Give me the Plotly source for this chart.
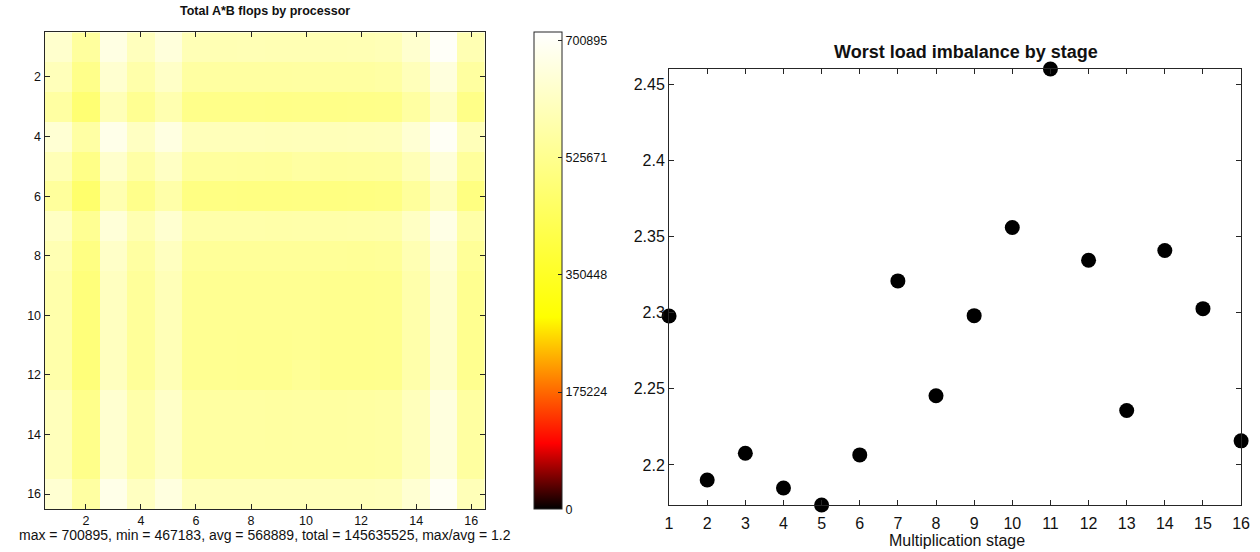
import plotly.graph_objects as go

W, H = 1260, 552

# ---------------- data ----------------
processor_cols = list(range(1, 17))
processor_rows = list(range(1, 17))

# Total A*B flops per processor (16 x 16 grid, rows top->bottom)
flops = [
    [630000, 550000, 666000, 602000, 652000, 590000, 588000, 589000, 587000, 588000, 586000, 588000, 592000, 632000, 700895, 586000],
    [598000, 518000, 634000, 570000, 620000, 557000, 556000, 556000, 555000, 557000, 555000, 556000, 560000, 598000, 656000, 554000],
    [558000, 478000, 594000, 530000, 580000, 518000, 516000, 515000, 514000, 516000, 514000, 515000, 518000, 558000, 616000, 514000],
    [640000, 560000, 676000, 611000, 662000, 598000, 597000, 597000, 596000, 598000, 596000, 597000, 600000, 640000, 696000, 595000],
    [592000, 512000, 628000, 564000, 614000, 551000, 550000, 549000, 548000, 558000, 549000, 550000, 553000, 592000, 650000, 548000],
    [547000, 467183, 583000, 519000, 569000, 506000, 505000, 504000, 504000, 505000, 503000, 504000, 507000, 547000, 605000, 503000],
    [612000, 532000, 648000, 584000, 634000, 571000, 570000, 570000, 569000, 570000, 569000, 570000, 573000, 612000, 670000, 568000],
    [585000, 505000, 621000, 557000, 607000, 544000, 543000, 543000, 542000, 543000, 540000, 539000, 542000, 585000, 643000, 541000],
    [572000, 492000, 608000, 544000, 594000, 532000, 531000, 531000, 530000, 531000, 524000, 524000, 526000, 572000, 630000, 528000],
    [572000, 492000, 608000, 544000, 594000, 532000, 531000, 530000, 530000, 531000, 524000, 524000, 526000, 572000, 630000, 528000],
    [570000, 490000, 606000, 542000, 592000, 530000, 529000, 528000, 528000, 530000, 522000, 522000, 524000, 570000, 628000, 526000],
    [570000, 490000, 606000, 542000, 592000, 530000, 529000, 528000, 528000, 538000, 522000, 522000, 524000, 570000, 628000, 526000],
    [599000, 519000, 635000, 571000, 621000, 555000, 557000, 557000, 556000, 557000, 556000, 557000, 560000, 599000, 657000, 555000],
    [599000, 519000, 635000, 571000, 621000, 555000, 557000, 557000, 556000, 557000, 556000, 557000, 560000, 599000, 657000, 555000],
    [598000, 518000, 634000, 570000, 620000, 554000, 556000, 556000, 555000, 556000, 555000, 556000, 559000, 598000, 656000, 554000],
    [638000, 558000, 674000, 610000, 660000, 597000, 596000, 596000, 595000, 596000, 595000, 596000, 599000, 638000, 694000, 594000],
]

heat_ticks = [2, 4, 6, 8, 10, 12, 14, 16]
cbar_ticks = [0, 175224, 350448, 525671, 700895]
cbar_ticktext = ["0", "175224", "350448", "525671", "700895"]
summary_text = "max = 700895, min = 467183, avg = 568889, total = 145635525, max/avg = 1.2"

stages = list(range(1, 17))
imbalance = [2.2978, 2.1901, 2.2077, 2.1849, 2.1737, 2.2066, 2.3208, 2.2454,
             2.2980, 2.3559, 2.4599, 2.3344, 2.2357, 2.3408, 2.3026, 2.2158]
imb_ticks = [2.2, 2.25, 2.3, 2.35, 2.4, 2.45]
imb_ticktext = ["2.2", "2.25", "2.3", "2.35", "2.4", "2.45"]

# ---------------- layout helpers (pixel geometry) ----------------
def px(x):
    return x / W

def py(y):
    return 1 - y / H

FONT = "Liberation Sans, Arial, Helvetica, sans-serif"
AX = "#262626"

# heatmap area
HX0, HX1, HY0, HY1 = 41, 486, 32.3, 509
# colorbar
CBX, CBW = 536, 28
# scatter area
SX0, SX1, SY0, SY1 = 672, 1250, 69, 505

hot_like = [
    [0.0, "rgb(0,0,0)"],
    [0.1375, "rgb(255,0,0)"],
    [0.402, "rgb(255,255,0)"],
    [1.0, "rgb(255,255,255)"],
]

fig = go.Figure()

fig.add_trace(go.Heatmap(
    z=flops, x=processor_cols, y=processor_rows,
    colorscale=hot_like, zmin=0, zmax=712850,
    xaxis="x", yaxis="y",
    colorbar=dict(
        x=px(CBX), xanchor="left", xpad=0,
        y=py(HY0), yanchor="top", ypad=0,
        len=HY1 - HY0, lenmode="pixels",
        thickness=CBW, thicknessmode="pixels",
        outlinecolor=AX, outlinewidth=1,
        ticks="inside", ticklen=4, tickcolor=AX,
        tickvals=cbar_ticks, ticktext=cbar_ticktext,
        tickfont=dict(family=FONT, size=12.5, color="#111"),
    ),
))

fig.add_trace(go.Scatter(
    x=stages, y=imbalance, mode="markers",
    marker=dict(color="black", size=15),
    cliponaxis=False, xaxis="x2", yaxis="y2", showlegend=False,
))

axis_common = dict(
    showline=True, linecolor=AX, linewidth=1, mirror="ticks",
    ticks="inside", tickcolor=AX, ticklen=5, showgrid=False, zeroline=False,
)

fig.update_layout(
    width=W, height=H,
    margin=dict(l=0, r=0, t=0, b=0),
    paper_bgcolor="white", plot_bgcolor="white",
    showlegend=False,
    xaxis=dict(domain=[px(HX0), px(HX1)], range=[0.5, 16.5], tickvals=heat_ticks,
               tickfont=dict(family=FONT, size=12.5, color="#111"), anchor="y", **axis_common),
    yaxis=dict(domain=[py(HY1), py(HY0)], range=[16.5, 0.5], tickvals=heat_ticks,
               tickfont=dict(family=FONT, size=12.5, color="#111"), anchor="x", **axis_common),
    xaxis2=dict(domain=[px(SX0), px(SX1)], range=[1, 16], tickvals=stages,
                ticklabelstandoff=4,
                tickfont=dict(family=FONT, size=16, color="#111"), anchor="y2", **axis_common),
    yaxis2=dict(domain=[py(SY1), py(SY0)], range=[2.1737, 2.4599], tickvals=imb_ticks,
                ticktext=imb_ticktext,
                tickfont=dict(family=FONT, size=16, color="#111"), anchor="x2", **axis_common),
    annotations=[
        dict(text="<b>Total A*B flops by processor</b>", x=px((HX0 + HX1) / 2), y=py(11),
             xref="paper", yref="paper", xanchor="center", yanchor="middle", showarrow=False,
             font=dict(family=FONT, size=12.5, color="#111")),
        dict(text=summary_text, x=px((HX0 + HX1) / 2), y=py(535),
             xref="paper", yref="paper", xanchor="center", yanchor="middle", showarrow=False,
             font=dict(family=FONT, size=14, color="#111")),
        dict(text="<b>Worst load imbalance by stage</b>", x=px(972), y=py(52),
             xref="paper", yref="paper", xanchor="center", yanchor="middle", showarrow=False,
             font=dict(family=FONT, size=18, color="#111")),
        dict(text="Multiplication stage", x=px(963), y=py(540),
             xref="paper", yref="paper", xanchor="center", yanchor="middle", showarrow=False,
             font=dict(family=FONT, size=16, color="#111")),
    ],
)

fig.write_html("out.html")
